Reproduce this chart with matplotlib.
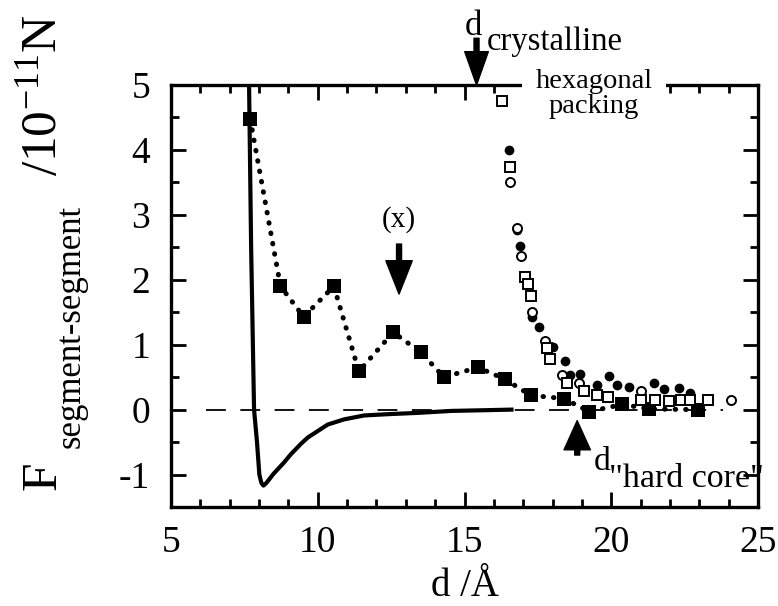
import numpy as np
import matplotlib.pyplot as plt

plt.rcParams['font.family'] = 'Liberation Serif'
plt.rcParams['mathtext.fontset'] = 'custom'
plt.rcParams['mathtext.rm'] = 'Liberation Serif'
plt.rcParams['mathtext.it'] = 'Liberation Serif:italic'
plt.rcParams['axes.unicode_minus'] = False

# solid curve (calculated force)
curve_x = [7.66, 7.73, 7.83, 7.93, 8.01, 8.08, 8.15, 8.25, 8.49, 8.84, 9.08,
           9.42, 9.66, 10.34, 10.90, 11.58, 12.40, 13.42, 14.55, 15.60, 16.60]
curve_y = [5.00, 2.50, 0.00, -0.50, -1.00, -1.13, -1.17, -1.13, -0.99, -0.82, -0.69,
           -0.53, -0.43, -0.23, -0.15, -0.09, -0.07, -0.05, -0.02, -0.01, 0.00]

# filled squares joined by dotted line
sq_x = [7.70, 8.73, 9.52, 10.55, 11.40, 12.57, 13.52, 14.30, 15.46, 16.37,
        17.26, 18.38, 19.25, 20.38, 21.30, 22.94]
sq_y = [4.47, 1.90, 1.43, 1.90, 0.59, 1.19, 0.88, 0.50, 0.65, 0.47,
        0.22, 0.17, -0.03, 0.08, 0.01, 0.00]

# filled circles
fc_x = [16.50, 16.78, 16.88, 17.30, 17.53, 18.00, 18.42, 18.60, 18.95, 19.52,
        19.93, 20.20, 20.60, 21.47, 21.80, 22.30, 22.70]
fc_y = [4.00, 2.77, 2.52, 1.43, 1.27, 0.96, 0.75, 0.53, 0.55, 0.38,
        0.52, 0.38, 0.35, 0.41, 0.31, 0.34, 0.26]

# open circles
oc_x = [16.54, 16.78, 16.92, 17.30, 17.74, 18.32, 18.90, 21.00, 24.07]
oc_y = [3.50, 2.80, 2.36, 1.51, 1.05, 0.53, 0.41, 0.29, 0.15]

# open squares
os_x = [16.27, 16.54, 17.05, 17.16, 17.26, 17.80, 17.90, 18.50, 19.08, 19.52,
        19.90, 21.03, 21.50, 21.98, 22.36, 22.67, 23.30]
os_y = [4.75, 3.73, 2.04, 1.94, 1.75, 0.95, 0.78, 0.41, 0.29, 0.23,
        0.20, 0.15, 0.15, 0.14, 0.15, 0.15, 0.15]

zero_x = [6.2, 23.8]
zero_y = [0, 0]

W, H = 778, 606
fig = plt.figure(figsize=(W / 100, H / 100), dpi=100)
ax = fig.add_axes([171 / W, 1 - 507 / H, (758 - 171) / W, (507 - 85) / H])

ax.plot(zero_x, zero_y, color='black', lw=1.3, dashes=(11, 8))
ax.plot(curve_x, curve_y, color='black', lw=3, solid_joinstyle='round')
ax.plot(sq_x, sq_y, color='black', lw=3.6, linestyle=(0, (0.1, 2.0)),
        dash_capstyle='round')
ax.plot(sq_x, sq_y, 's', color='black', ms=10.5, mew=0)
ax.plot(fc_x, fc_y, 'o', color='black', ms=7, mew=0)
ax.plot(oc_x, oc_y, 'o', mfc='white', mec='black', ms=6.5, mew=1.4)
ax.plot(os_x, os_y, 's', mfc='white', mec='black', ms=6.5, mew=1.4)

ax.set_xlim(5, 25)
ax.set_ylim(-1.45, 5)
ax.set_xticks(np.arange(5, 26, 5))
ax.set_xticks(np.arange(5, 26, 1), minor=True)
ax.set_yticks(np.arange(-1, 6, 1))
ax.set_yticks(np.arange(-1.5, 5.1, 0.5), minor=True)
ax.set_yticklabels(['-1', '0', '1', '2', '3', '4', '5'])

for s in ax.spines.values():
    s.set_linewidth(2.4)
ax.tick_params(which='both', direction='in', top=True, right=True, width=2)
ax.tick_params(which='major', length=11, labelsize=27)
ax.tick_params(which='minor', length=5.5)
ax.tick_params(axis='x', which='major', pad=13)
ax.tick_params(axis='y', which='major', pad=15)

# arrows
arr = dict(facecolor='black', edgecolor='black', width=3.6, headwidth=19,
           headlength=24, shrink=0)
ax.annotate('', xy=(12.77, 1.78), xytext=(12.77, 2.55), arrowprops=arr)
ax.annotate('', xy=(15.41, 5.0), xytext=(15.41, 5.72), arrowprops=dict(
    arr, headwidth=17, headlength=24), annotation_clip=False)
ax.annotate('', xy=(18.84, -0.17), xytext=(18.84, -0.70), arrowprops=dict(
    arr, headwidth=19, headlength=21), annotation_clip=False)

ax.text(12.77, 2.93, '(x)', fontsize=21, ha='center', va='center')


def px(x, y):
    return x / W, 1 - y / H


fig.text(*px(465, 35), 'd', fontsize=25, va='baseline')
fig.text(*px(487, 50), 'crystalline', fontsize=23.5, va='baseline')
fig.text(*px(594, 94), 'hexagonal\npacking', fontsize=20.5, ha='center',
         va='center', linespacing=0.95, zorder=5,
         bbox=dict(facecolor='white', edgecolor='none', pad=10))
fig.text(*px(594, 470), 'd', fontsize=24, va='baseline')
fig.text(*px(609, 487), '"hard core"', fontsize=24.5, va='baseline')

fig.text(*px(465, 587), 'd /Å', fontsize=28, ha='center', va='center')

# y label built from pieces, rotated
rot = dict(rotation=90, rotation_mode='anchor', ha='left', va='baseline')
fig.text(*px(56, 490), 'F', fontsize=37, **rot)
fig.text(*px(80, 448), 'segment-segment', fontsize=25, **rot)
fig.text(*px(56, 176), r'/10$^{-11}$N', fontsize=37, **rot)

fig.savefig('out.png', dpi=100)
